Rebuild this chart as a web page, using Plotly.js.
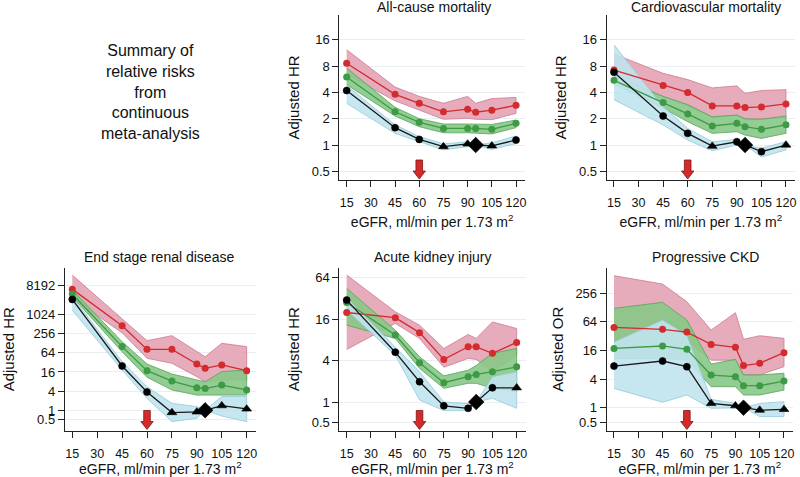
<!DOCTYPE html>
<html>
<head>
<meta charset="utf-8">
<script src="https://cdn.plot.ly/plotly-3.0.1.min.js"></script>
<style>html,body{margin:0;padding:0;background:#fff;}#chart{width:800px;height:477px;}</style>
</head>
<body>
<div id="chart"></div>
<script>
// ---------- DATA ----------
const eGFR = [15, 45, 60, 75, 90, 95, 105, 120];
const xTickVals = [15, 30, 45, 60, 75, 90, 105, 120];
const arrowAt = 60;

const panelTitles = ["All-cause mortality", "Cardiovascular mortality", "End stage renal disease", "Acute kidney injury", "Progressive CKD"];
const yTitles = ["Adjusted HR", "Adjusted HR", "Adjusted HR", "Adjusted HR", "Adjusted OR"];
const summaryText = ["Summary of", "relative risks", "from", "continuous", "meta-analysis"];

const yTicksTop = [0.5, 1, 2, 4, 8, 16];
const yTicksESRD = [0.5, 1, 4, 16, 64, 256, 1024, 8192];
const yTicksAKI = [0.5, 1, 4, 16, 64];
const yTicksCKD = [0.5, 1, 4, 16, 64, 256];

// All-cause mortality
const acmRed = [8.6, 3.8, 3.0, 2.4, 2.57, 2.37, 2.5, 2.85];
const acmRedLo = [6.4, 3.2, 2.5, 1.97, 2.02, 1.97, 1.95, 2.3];
const acmRedHi = [12.3, 4.6, 3.6, 3.0, 3.6, 3.0, 3.4, 3.5];
const acmGreen = [6.0, 2.4, 1.82, 1.55, 1.55, 1.55, 1.51, 1.77];
const acmGreenLo = [4.9, 2.15, 1.62, 1.38, 1.38, 1.38, 1.34, 1.58];
const acmGreenHi = [7.6, 2.7, 2.0, 1.74, 1.74, 1.74, 1.72, 1.93];
const acmBlack = [4.2, 1.58, 1.16, 0.96, 1.03, 1.0, 0.98, 1.14];
const acmBlackLo = [3.0, 1.36, 1.09, 0.88, 0.96, 1.0, 0.89, 1.04];
const acmBlackHi = [4.8, 1.7, 1.25, 1.03, 1.09, 1.0, 1.06, 1.27];
const acmSym = ["c", "c", "c", "t", "t", "d", "t", "c"];

// Cardiovascular mortality
const cvmRed = [7.2, 4.8, 4.0, 2.8, 2.8, 2.68, 2.73, 2.95];
const cvmRedLo = [5.1, 3.6, 2.8, 2.07, 2.2, 1.94, 1.97, 2.07];
const cvmRedHi = [11, 6.6, 5.6, 4.5, 4.75, 3.9, 4.2, 4.3];
const cvmGreen = [5.5, 3.06, 2.27, 1.65, 1.77, 1.62, 1.51, 1.7];
const cvmGreenLo = [5.0, 2.63, 1.85, 1.36, 1.42, 1.3, 1.19, 1.36];
const cvmGreenHi = [6.2, 3.6, 2.9, 2.1, 2.2, 2.0, 1.97, 2.15];
const cvmBlack = [6.8, 2.15, 1.36, 0.97, 1.09, 1.0, 0.84, 1.0];
const cvmBlackLo = [3.3, 1.7, 1.14, 0.86, 1.0, 1.0, 0.73, 0.88];
const cvmBlackHi = [14, 2.75, 1.55, 1.09, 1.16, 1.0, 0.92, 1.09];
const cvmSym = ["c", "c", "c", "t", "c", "d", "c", "t"];

// End stage renal disease
const esrdRed = [6400, 455, 82, 82, 28.5, 20.8, 26.5, 17.6];
const esrdRedLo = [3280, 274, 43, 30, 11.4, 7.9, 9, 9];
const esrdRedHi = [17700, 771, 154, 221, 69, 48, 127, 100];
const esrdGreen = [4480, 100, 17.6, 8.3, 5.1, 4.8, 6.2, 4.35];
const esrdGreenLo = [3700, 69, 10.9, 4.35, 3.0, 3.0, 3.0, 3.0];
const esrdGreenHi = [6000, 143, 28.5, 13.8, 9, 7.9, 16.4, 18.4];
const esrdBlack = [3050, 24.6, 3.76, 0.85, 0.89, 1.0, 1.4, 1.1];
const esrdBlackLo = [1400, 18.4, 2.38, 0.44, 0.56, 1.0, 0.66, 0.44];
const esrdBlackHi = [3700, 34, 5.5, 1.66, 1.3, 1.0, 2.7, 2.7];
const esrdSym = ["c", "c", "c", "t", "t", "d", "t", "t"];

// Acute kidney injury
const akiRed = [20, 16.8, 10.2, 4.16, 6.35, 6.35, 5.1, 7.35];
const akiRedLo = [5.8, 13.9, 8.4, 3.2, 4.3, 4.16, 2.76, 4.8];
const akiRedHi = [70, 20.5, 13.1, 6.0, 9.6, 8.4, 14.6, 11.7];
const akiGreen = [28, 9.4, 3.72, 1.91, 2.33, 2.52, 2.76, 3.25];
const akiGreenLo = [13.1, 8.4, 3.08, 1.58, 1.87, 1.87, 1.58, 1.41];
const akiGreenHi = [44.7, 11.1, 4.55, 2.4, 2.9, 3.4, 5.1, 6.0];
const akiBlack = [30.3, 5.3, 1.97, 0.88, 0.81, 1.0, 1.61, 1.61];
const akiBlackLo = [21.7, 4.8, 1.07, 0.75, 0.75, 1.0, 1.13, 0.81];
const akiBlackHi = [33, 6.35, 2.76, 1.0, 0.95, 1.0, 2.33, 2.76];
const akiSym = ["c", "c", "c", "c", "c", "d", "c", "t"];

// Progressive CKD
const ckdRed = [49, 44.6, 39, 21.5, 18.6, 7.7, 8.6, 14.4];
const ckdRedLo = [24, 26.6, 26, 10, 10, 4.9, 4.9, 7.3];
const ckdRedHi = [600, 400, 170, 43, 100, 27.5, 32.7, 28.8];
const ckdGreen = [17.7, 19.9, 16.9, 4.87, 4.5, 2.9, 2.9, 3.64];
const ckdGreenLo = [10.9, 10.9, 10, 2.77, 2.77, 1.85, 1.85, 2.35];
const ckdGreenHi = [123, 165, 70, 8.3, 10.4, 4.9, 4.9, 5.3];
const ckdBlack = [7.5, 9.6, 7.3, 1.23, 1.1, 1.0, 0.89, 0.92];
const ckdBlackLo = [2.55, 1.3, 1.85, 0.97, 1.0, 1.0, 0.65, 0.65];
const ckdBlackHi = [24, 70, 34, 1.5, 1.23, 1.0, 1.23, 1.34];
const ckdSym = ["c", "c", "c", "t", "t", "d", "t", "t"];

// ---------- STYLE ----------
const FONT = '"Liberation Sans", Arial, Helvetica, sans-serif';
const C = {
  red: '#d42b2e', redBand: 'rgba(226,160,178,0.88)', redEdge: '#cf7890',
  green: '#3d9a45', greenBand: 'rgba(135,200,135,0.9)', greenEdge: '#55a55a',
  black: '#000000', blueBand: 'rgba(192,227,238,0.9)', blueEdge: '#93c9da'
};
const symMap = {c: 'circle', t: 'triangle-up', d: 'diamond'};
const sizeMap = {c: 7, t: 8.5, d: 12};

const panels = [
  {s: '', red: acmRed, redLo: acmRedLo, redHi: acmRedHi, green: acmGreen, greenLo: acmGreenLo, greenHi: acmGreenHi, black: acmBlack, blackLo: acmBlackLo, blackHi: acmBlackHi, sym: acmSym, ticks: yTicksTop,
   xd: [339.4, 524.9], yd: [15, 180], yr: [-0.40, 1.487], tx: 434, ty: 7},
  {s: '2', red: cvmRed, redLo: cvmRedLo, redHi: cvmRedHi, green: cvmGreen, greenLo: cvmGreenLo, greenHi: cvmGreenHi, black: cvmBlack, blackLo: cvmBlackLo, blackHi: cvmBlackHi, sym: cvmSym, ticks: yTicksTop,
   xd: [606.6, 795], yd: [15, 180], yr: [-0.40, 1.487], tx: 706, ty: 7},
  {s: '3', red: esrdRed, redLo: esrdRedLo, redHi: esrdRedHi, green: esrdGreen, greenLo: esrdGreenLo, greenHi: esrdGreenHi, black: esrdBlack, blackLo: esrdBlackLo, blackHi: esrdBlackHi, sym: esrdSym, ticks: yTicksESRD,
   xd: [64.8, 255.8], yd: [268, 430.5], yr: [-0.635, 4.47], tx: 159, ty: 257},
  {s: '4', red: akiRed, redLo: akiRedLo, redHi: akiRedHi, green: akiGreen, greenLo: akiGreenLo, greenHi: akiGreenHi, black: akiBlack, blackLo: akiBlackLo, blackHi: akiBlackHi, sym: akiSym, ticks: yTicksAKI,
   xd: [339.4, 525.6], yd: [268, 430.5], yr: [-0.414, 1.948], tx: 433, ty: 257},
  {s: '5', red: ckdRed, redLo: ckdRedLo, redHi: ckdRedHi, green: ckdGreen, greenLo: ckdGreenLo, greenHi: ckdGreenHi, black: ckdBlack, blackLo: ckdBlackLo, blackHi: ckdBlackHi, sym: ckdSym, ticks: yTicksCKD,
   xd: [606.7, 792.9], yd: [268, 430.5], yr: [-0.48, 2.94], tx: 705, ty: 257}
];

const W = 800, H = 477;
const traces = [];
const layout = {
  width: W, height: H,
  margin: {l: 0, r: 0, t: 0, b: 0},
  paper_bgcolor: '#ffffff', plot_bgcolor: 'rgba(0,0,0,0)',
  showlegend: false,
  font: {family: FONT, color: '#111', size: 13},
  shapes: [], annotations: []
};

function band(p, lo, hi, fill, edge) {
  return {
    x: eGFR.concat(eGFR.slice().reverse()),
    y: hi.concat(lo.slice().reverse()),
    xaxis: 'x' + p.s, yaxis: 'y' + p.s,
    type: 'scatter', mode: 'lines', fill: 'toself', fillcolor: fill,
    line: {color: edge, width: 0.8}, hoverinfo: 'skip'
  };
}

panels.forEach((p, i) => {
  traces.push(band(p, p.redLo, p.redHi, C.redBand, C.redEdge));
  traces.push(band(p, p.greenLo, p.greenHi, C.greenBand, C.greenEdge));
  traces.push(band(p, p.blackLo, p.blackHi, C.blueBand, C.blueEdge));
  traces.push({x: eGFR, y: p.red, xaxis: 'x' + p.s, yaxis: 'y' + p.s, type: 'scatter', mode: 'lines+markers',
    line: {color: C.red, width: 1.3}, marker: {color: C.red, size: 7, opacity: 1}});
  traces.push({x: eGFR, y: p.green, xaxis: 'x' + p.s, yaxis: 'y' + p.s, type: 'scatter', mode: 'lines+markers',
    line: {color: C.green, width: 1.3}, marker: {color: C.green, size: 7, opacity: 1}});
  traces.push({x: eGFR, y: p.black, xaxis: 'x' + p.s, yaxis: 'y' + p.s, type: 'scatter', mode: 'lines+markers',
    line: {color: '#1a1a1a', width: 1.3},
    marker: {color: C.black, opacity: 1, symbol: p.sym.map(k => symMap[k]), size: p.sym.map(k => sizeMap[k]),
      line: {color: C.black, width: 0.6}}});

  const xa = {
    domain: [p.xd[0] / W, p.xd[1] / W], anchor: 'y' + p.s,
    range: [10.5, 125.5], tickvals: xTickVals, ticktext: xTickVals.map(String),
    ticks: 'outside', ticklen: 6, tickcolor: '#222', tickwidth: 1,
    showline: true, linecolor: '#222', linewidth: 1, showgrid: false, zeroline: false,
    ticklabelstandoff: 5,
    tickfont: {size: 12.5, family: FONT, color: '#111'},
    title: {text: 'eGFR, ml/min per 1.73 m<sup>2</sup>', font: {size: 14, family: FONT, color: '#111'}, standoff: 8}
  };
  const ya = {
    domain: [1 - p.yd[1] / H, 1 - p.yd[0] / H], anchor: 'x' + p.s,
    type: 'log', range: p.yr, tickvals: p.ticks, ticktext: p.ticks.map(String),
    ticks: 'outside', ticklen: 6, tickcolor: '#222', tickwidth: 1,
    showline: true, linecolor: '#222', linewidth: 1,
    showgrid: true, gridcolor: '#e9eef2', gridwidth: 1, zeroline: false,
    tickfont: {size: 13, family: FONT, color: '#111'},
    title: {text: yTitles[i], font: {size: 15, family: FONT, color: '#111'}, standoff: 8}
  };
  layout['xaxis' + p.s] = xa;
  layout['yaxis' + p.s] = ya;

  // reference line at HR = 1
  layout.shapes.push({type: 'line', layer: 'below', xref: 'x' + p.s + ' domain', x0: 0, x1: 1,
    yref: 'y' + p.s, y0: 0, y1: 0, line: {color: '#9a9a9a', width: 1}});
  // red arrow marking eGFR 60
  layout.shapes.push({type: 'path', layer: 'above', xref: 'x' + p.s, xsizemode: 'pixel', xanchor: arrowAt,
    yref: 'y' + p.s + ' domain', ysizemode: 'pixel', yanchor: 0,
    path: 'M -3.3,20 L 3.3,20 L 3.3,9 L 6.2,9 L 0,1 L -6.2,9 L -3.3,9 Z',
    fillcolor: '#d42a2a', line: {color: '#7d1515', width: 0.8}});

  layout.annotations.push({text: panelTitles[i], xref: 'paper', yref: 'paper', x: p.tx / W, y: 1 - p.ty / H,
    xanchor: 'center', yanchor: 'middle', showarrow: false, font: {size: 14, family: FONT, color: '#111'}});
});

layout.annotations.push({text: summaryText.join('<br>'), xref: 'paper', yref: 'paper', x: 150 / W, y: 1 - 91.5 / H,
  xanchor: 'center', yanchor: 'middle', align: 'center', showarrow: false,
  font: {size: 16, family: FONT, color: '#111'}});

Plotly.newPlot('chart', traces, layout, {displayModeBar: false, staticPlot: true});
</script>
</body>
</html>
